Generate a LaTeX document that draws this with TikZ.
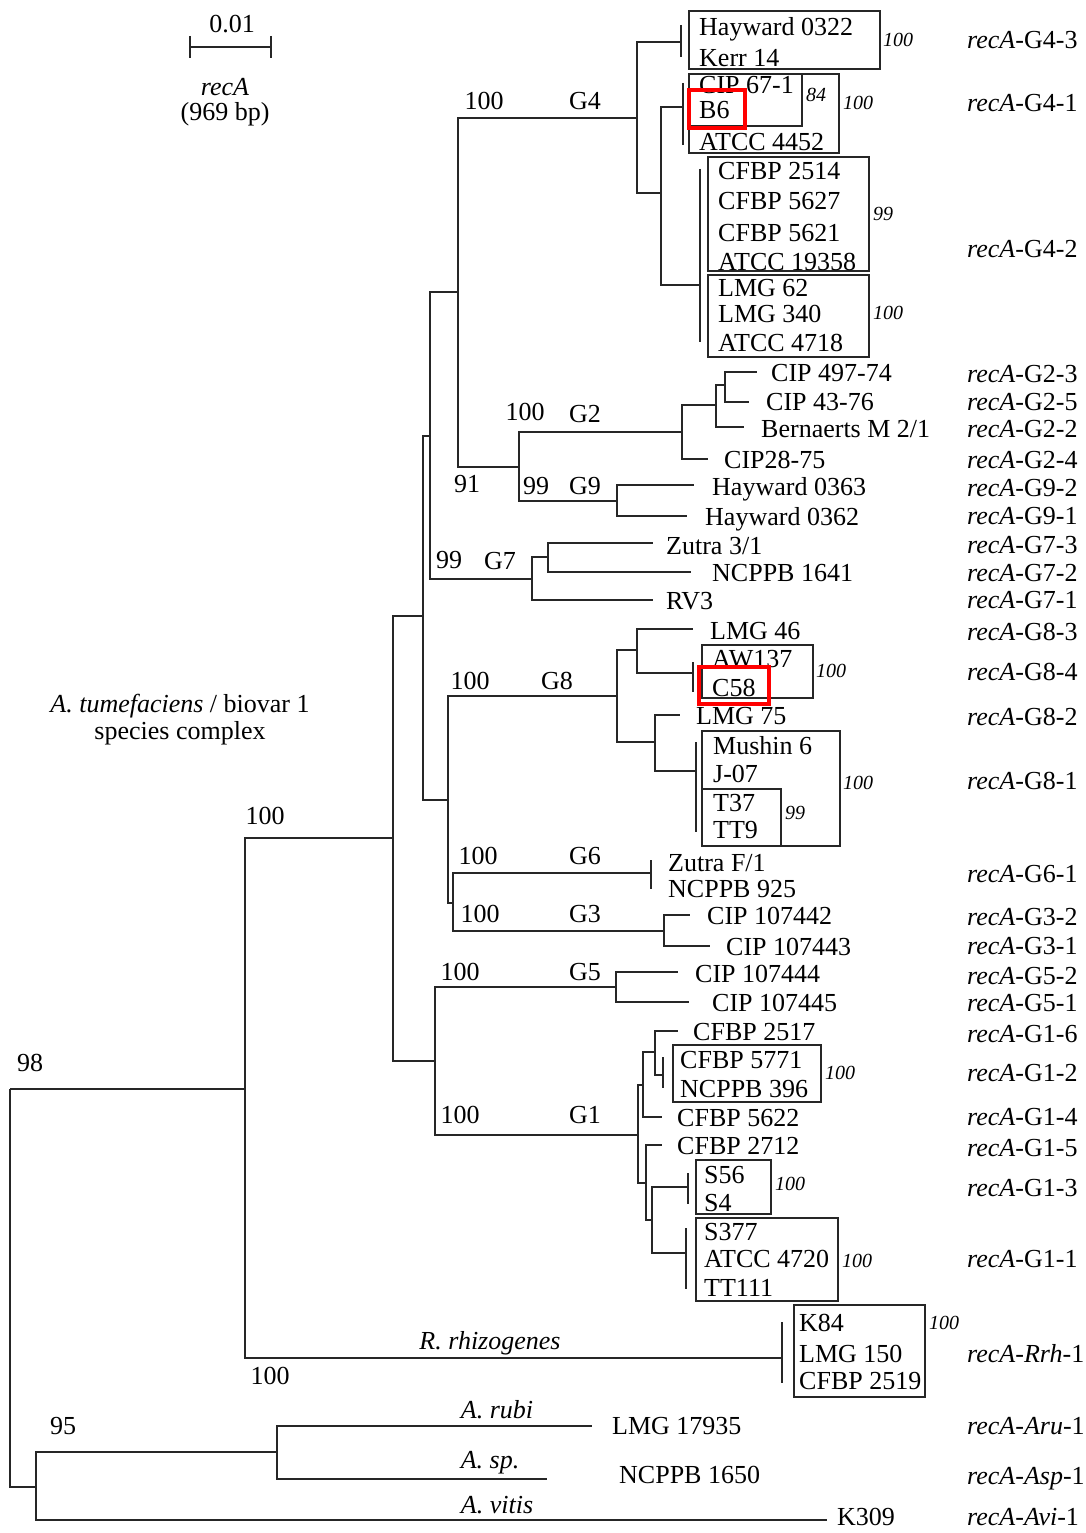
\documentclass[tikz,border=0pt]{standalone}
\usepackage{fontspec}
\setmainfont{Liberation Serif}
\newcommand{\rca}{\textit{recA}}
\begin{document}
\begin{tikzpicture}[x=1pt,y=-1pt,
  br/.style={line width=1.6pt, draw=black!85},
  bx/.style={line width=1.5pt, draw=black!85},
  rb/.style={line width=4pt, draw=red},
  lf/.style={anchor=base west, inner sep=0pt, yshift=-9pt, font=\fontsize{26}{30}\selectfont},
  lc/.style={anchor=base, inner sep=0pt, yshift=-9pt, font=\fontsize{26}{30}\selectfont},
  bs/.style={anchor=base west, inner sep=0pt, yshift=-7pt, font=\fontsize{20}{24}\selectfont\itshape},
]
\useasboundingbox (0,0) rectangle (1085,1533);
% ---------- coordinates of tree nodes ----------
\coordinate (R) at (10,1089);
\coordinate (n36) at (36,1487);
\coordinate (nRu) at (277,1452);
\coordinate (tRu) at (592,1426);
\coordinate (tAsp) at (547,1479);
\coordinate (tVi) at (827,1520);
\coordinate (n245) at (245,1089);
\coordinate (tRrh) at (782,1358);
\coordinate (n393) at (393,838);
\coordinate (n423) at (423,616);
\coordinate (n430) at (430,436);
\coordinate (n458) at (458,292);
\coordinate (n637) at (637,118);
\coordinate (tHay) at (681,42);
\coordinate (n661) at (661,193);
\coordinate (tB6) at (683,107);
\coordinate (tG42) at (700,285);
\coordinate (n519) at (519,467);
\coordinate (n682) at (682,432);
\coordinate (n716) at (716,405);
\coordinate (n725) at (725,385);
\coordinate (t497) at (757,372);
\coordinate (t43) at (749,402);
\coordinate (tBer) at (744,427);
\coordinate (t28) at (708,459);
\coordinate (n617b) at (617,501);
\coordinate (t363) at (694,485);
\coordinate (t362) at (687,516);
\coordinate (n532) at (532,579);
\coordinate (n548) at (548,557);
\coordinate (tZu) at (653,543);
\coordinate (t1641) at (691,572);
\coordinate (tRV) at (653,600);
\coordinate (n448) at (448,800);
\coordinate (n617) at (617,696);
\coordinate (n637b) at (637,650);
\coordinate (t46) at (693,629);
\coordinate (tAW) at (693,673);
\coordinate (n655) at (655,742);
\coordinate (t75) at (680,715);
\coordinate (tMu) at (696,771);
\coordinate (n453) at (453,903);
\coordinate (tG6) at (651,873);
\coordinate (n664) at (664,931);
\coordinate (t442) at (690,915);
\coordinate (t443) at (710,946);
\coordinate (n435) at (435,1061);
\coordinate (n616) at (616,987);
\coordinate (t444) at (678,972);
\coordinate (t445) at (689,1002);
\coordinate (n638) at (638,1135);
\coordinate (n643) at (643,1085);
\coordinate (n655c) at (655,1052);
\coordinate (t2517) at (678,1031);
\coordinate (t5771) at (663,1075);
\coordinate (t5622) at (662,1117);
\coordinate (n646) at (646,1183);
\coordinate (t2712) at (662,1145);
\coordinate (n652) at (652,1220);
\coordinate (tS56) at (688,1187);
\coordinate (tS377) at (686,1253);
% ---------- branches ----------
\draw[br] (R) |- (n245) (R) |- (n36)
  (n36) |- (nRu) (n36) |- (tVi)
  (nRu) |- (tRu) (nRu) |- (tAsp)
  (n245) |- (n393) (n245) |- (tRrh)
  (n393) |- (n423) (n393) |- (n435)
  (n423) |- (n430) (n423) |- (n448)
  (n430) |- (n458) (n430) |- (n532)
  (n458) |- (n637) (n458) |- (n519)
  (n637) |- (tHay) (n637) |- (n661)
  (n661) |- (tB6) (n661) |- (tG42)
  (n519) |- (n682) (n519) |- (n617b)
  (n682) |- (n716) (n682) |- (t28)
  (n716) |- (n725) (n716) |- (tBer)
  (n725) |- (t497) (n725) |- (t43)
  (n617b) |- (t363) (n617b) |- (t362)
  (n532) |- (n548) (n532) |- (tRV)
  (n548) |- (tZu) (n548) |- (t1641)
  (n448) |- (n617) (n448) |- (n453)
  (n617) |- (n637b) (n617) |- (n655)
  (n637b) |- (t46) (n637b) |- (tAW)
  (n655) |- (t75) (n655) |- (tMu)
  (n453) |- (tG6) (n453) |- (n664)
  (n664) |- (t442) (n664) |- (t443)
  (n435) |- (n616) (n435) |- (n638)
  (n616) |- (t444) (n616) |- (t445)
  (n638) |- (n643) (n638) |- (n646)
  (n643) |- (n655c) (n643) |- (t5622)
  (n655c) |- (t2517) (n655c) |- (t5771)
  (n646) |- (t2712) (n646) |- (n652)
  (n652) |- (tS56) (n652) |- (tS377);
% collapsed-clade ticks
\draw[br] (tHay |- 0,25) -- (tHay |- 0,57);
\draw[br] (tB6 |- 0,83) -- (tB6 |- 0,145);
\draw[br] (tG42 |- 0,169) -- (tG42 |- 0,342);
\draw[br] (tAW |- 0,662) -- (tAW |- 0,692);
\draw[br] (tMu |- 0,742) -- (tMu |- 0,832);
\draw[br] (tG6 |- 0,860) -- (tG6 |- 0,889);
\draw[br] (t5771 |- 0,1057) -- (t5771 |- 0,1088);
\draw[br] (tS56 |- 0,1173) -- (tS56 |- 0,1204);
\draw[br] (tS377 |- 0,1228) -- (tS377 |- 0,1289);
\draw[br] (tRrh |- 0,1322) -- (tRrh |- 0,1383);
% ---------- scale bar ----------
\coordinate (sb1) at (190,47);
\coordinate (sb2) at (271,47);
\draw[br] (sb1) -- (sb2);
\draw[br] (sb1 |- 0,36) -- (sb1 |- 0,58);
\draw[br] (sb2 |- 0,36) -- (sb2 |- 0,58);
\node[lc] (sbl) at (232,24) {0.01};
\node[lc] (sbg) at (225,87) {\textit{recA}};
\node[lc] (sbbp) at (225,112) {(969 bp)};
% ---------- boxes ----------
\draw[bx] (689,11) rectangle (880,69);
\draw[bx] (689,74) rectangle (839,153);
\draw[bx] (689,74) rectangle (802,126);
\draw[bx] (708,157) rectangle (869,271);
\draw[bx] (708,275) rectangle (869,357);
\draw[bx] (702,645) rectangle (813,698);
\draw[bx] (702,731) rectangle (840,846);
\draw[bx] (702,789) rectangle (781,846);
\draw[bx] (673,1045) rectangle (821,1102);
\draw[bx] (696,1160) rectangle (771,1214);
\draw[bx] (696,1218) rectangle (838,1301);
\draw[bx] (794,1305) rectangle (925,1397);
% ---------- leaf labels ----------
\node[lf] (l1) at (699,27) {Hayward 0322};
\node[lf] (l2) at (699,58) {Kerr 14};
\node[lf] (l3) at (699,85) {CIP 67-1};
\node[lf] (l4) at (699,110) {B6};
\node[lf] (l5) at (699,142) {ATCC 4452};
\node[lf] (l6) at (718,170) {CFBP 2514};
\node[lf] (l7) at (718,201) {CFBP 5627};
\node[lf] (l8) at (718,232) {CFBP 5621};
\node[lf] (l9) at (718,261) {ATCC 19358};
\node[lf] (l10) at (718,287) {LMG 62};
\node[lf] (l11) at (718,313) {LMG 340};
\node[lf] (l12) at (718,342) {ATCC 4718};
\node[lf] (l13) at (771,372) {CIP 497-74};
\node[lf] (l14) at (766,401) {CIP 43-76};
\node[lf] (l15) at (761,428) {Bernaerts M 2/1};
\node[lf] (l16) at (724,459) {CIP28-75};
\node[lf] (l17) at (712,486) {Hayward 0363};
\node[lf] (l18) at (705,516) {Hayward 0362};
\node[lf] (l19) at (666,545) {Zutra 3/1};
\node[lf] (l20) at (712,572) {NCPPB 1641};
\node[lf] (l21) at (666,600) {RV3};
\node[lf] (l22) at (710,630) {LMG 46};
\node[lf] (l23) at (712,658) {AW137};
\node[lf] (l24) at (712,687) {C58};
\node[lf] (l25) at (696,715) {LMG 75};
\node[lf] (l26) at (713,745) {Mushin 6};
\node[lf] (l27) at (713,773) {J-07};
\node[lf] (l28) at (713,802) {T37};
\node[lf] (l29) at (713,829) {TT9};
\node[lf] (l30) at (668,862) {Zutra F/1};
\node[lf] (l31) at (668,888) {NCPPB 925};
\node[lf] (l32) at (707,915) {CIP 107442};
\node[lf] (l33) at (726,946) {CIP 107443};
\node[lf] (l34) at (695,973) {CIP 107444};
\node[lf] (l35) at (712,1002) {CIP 107445};
\node[lf] (l36) at (693,1031) {CFBP 2517};
\node[lf] (l37) at (680,1059) {CFBP 5771};
\node[lf] (l38) at (680,1088) {NCPPB 396};
\node[lf] (l39) at (677,1117) {CFBP 5622};
\node[lf] (l40) at (677,1145) {CFBP 2712};
\node[lf] (l41) at (704,1174) {S56};
\node[lf] (l42) at (704,1202) {S4};
\node[lf] (l43) at (704,1231) {S377};
\node[lf] (l44) at (704,1258) {ATCC 4720};
\node[lf] (l45) at (704,1287) {TT111};
\node[lf] (l46) at (799,1322) {K84};
\node[lf] (l47) at (799,1353) {LMG 150};
\node[lf] (l48) at (799,1380) {CFBP 2519};
\node[lf] (l49) at (612,1425) {LMG 17935};
\node[lf] (l50) at (619,1474) {NCPPB 1650};
\node[lf] (l51) at (837,1516) {K309};
% red highlight boxes
\draw[rb] (689,90) rectangle (745,128);
\draw[rb] (699,667) rectangle (769,704);
% ---------- box bootstrap values ----------
\node[bs] (b1) at (883,40) {100};
\node[bs] (b2) at (806,95) {84};
\node[bs] (b3) at (843,103) {100};
\node[bs] (b4) at (873,213) {99};
\node[bs] (b5) at (873,312) {100};
\node[bs] (b6) at (816,670) {100};
\node[bs] (b7) at (843,782) {100};
\node[bs] (b8) at (785,812) {99};
\node[bs] (b9) at (825,1072) {100};
\node[bs] (b10) at (775,1183) {100};
\node[bs] (b11) at (842,1260) {100};
\node[bs] (b12) at (929,1322) {100};
% ---------- internal labels ----------
\node[lc] (i1) at (484,101) {100};
\node[lc] (g4) at (585,101) {G4};
\node[lc] (i2) at (525,411) {100};
\node[lc] (g2) at (585,413) {G2};
\node[lc] (i3) at (467,483) {91};
\node[lc] (i4) at (536,485) {99};
\node[lc] (g9) at (585,485) {G9};
\node[lc] (i5) at (449,559) {99};
\node[lc] (g7) at (500,560) {G7};
\node[lc] (i6) at (470,680) {100};
\node[lc] (g8) at (557,680) {G8};
\node[lc] (i7) at (478,855) {100};
\node[lc] (g6) at (585,855) {G6};
\node[lc] (i8) at (480,913) {100};
\node[lc] (g3) at (585,913) {G3};
\node[lc] (i9) at (460,971) {100};
\node[lc] (g5) at (585,971) {G5};
\node[lc] (i10) at (460,1114) {100};
\node[lc] (g1) at (585,1114) {G1};
\node[lc] (i11) at (265,815) {100};
\node[lc] (i12) at (30,1062) {98};
\node[lc] (i13) at (270,1375) {100};
\node[lc] (i14) at (63,1425) {95};
\node[lc] (sp1) at (180,703) {\textit{A. tumefaciens} / biovar 1};
\node[lc] (sp2) at (180,730) {species complex};
\node[lc] (sp3) at (490,1340) {\textit{R. rhizogenes}};
\node[lc] (sp4) at (497,1409) {\textit{A. rubi}};
\node[lc] (sp5) at (490,1459) {\textit{A. sp.}};
\node[lc] (sp6) at (497,1504) {\textit{A. vitis}};
% ---------- recA allele labels ----------
\node[lf] (r1) at (967,40) {\rca-G4-3};
\node[lf] (r2) at (967,103) {\rca-G4-1};
\node[lf] (r3) at (967,248) {\rca-G4-2};
\node[lf] (r4) at (967,373) {\rca-G2-3};
\node[lf] (r5) at (967,401) {\rca-G2-5};
\node[lf] (r6) at (967,428) {\rca-G2-2};
\node[lf] (r7) at (967,459) {\rca-G2-4};
\node[lf] (r8) at (967,487) {\rca-G9-2};
\node[lf] (r9) at (967,515) {\rca-G9-1};
\node[lf] (r10) at (967,544) {\rca-G7-3};
\node[lf] (r11) at (967,572) {\rca-G7-2};
\node[lf] (r12) at (967,599) {\rca-G7-1};
\node[lf] (r13) at (967,631) {\rca-G8-3};
\node[lf] (r14) at (967,671) {\rca-G8-4};
\node[lf] (r15) at (967,716) {\rca-G8-2};
\node[lf] (r16) at (967,780) {\rca-G8-1};
\node[lf] (r17) at (967,873) {\rca-G6-1};
\node[lf] (r18) at (967,916) {\rca-G3-2};
\node[lf] (r19) at (967,945) {\rca-G3-1};
\node[lf] (r20) at (967,975) {\rca-G5-2};
\node[lf] (r21) at (967,1002) {\rca-G5-1};
\node[lf] (r22) at (967,1033) {\rca-G1-6};
\node[lf] (r23) at (967,1072) {\rca-G1-2};
\node[lf] (r24) at (967,1116) {\rca-G1-4};
\node[lf] (r25) at (967,1147) {\rca-G1-5};
\node[lf] (r26) at (967,1187) {\rca-G1-3};
\node[lf] (r27) at (967,1258) {\rca-G1-1};
\node[lf] (r28) at (967,1353) {\rca-\textit{Rrh}-1};
\node[lf] (r29) at (967,1425) {\rca-\textit{Aru}-1};
\node[lf] (r30) at (967,1475) {\rca-\textit{Asp}-1};
\node[lf] (r31) at (967,1516) {\rca-\textit{Avi}-1};
\end{tikzpicture}
\end{document}
